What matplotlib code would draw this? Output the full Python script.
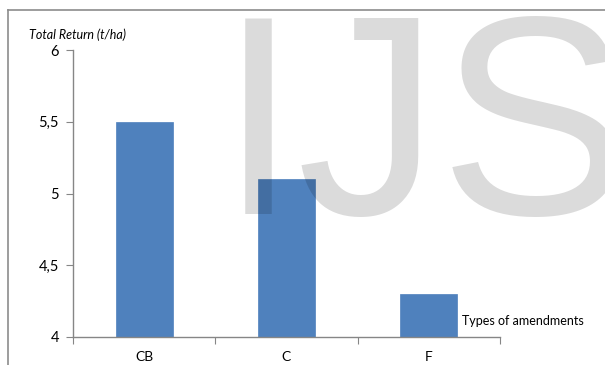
import numpy as np
import matplotlib
matplotlib.use("Agg")
import matplotlib.pyplot as plt
from matplotlib.lines import Line2D

plt.rcParams['font.family'] = ['Lato', 'DejaVu Sans']

# data
categories = ["CB", "C", "F"]
total_return = [5.5, 5.1, 4.3]
ytick_values = [4, 4.5, 5, 5.5, 6]
ytick_labels = ["4", "4,5", "5", "5,5", "6"]

W, H = 605, 365
fig = plt.figure(figsize=(W / 100, H / 100), dpi=100)

# plot area in pixel coordinates of the reference
left, right, top, bottom = 73, 500, 50, 337
ax = fig.add_axes([left / W, 1 - bottom / H, (right - left) / W, (bottom - top) / H])

x = np.arange(len(categories))
ax.bar(x, [v - 4 for v in total_return], bottom=4, width=0.4, color="#4F81BD",
       edgecolor="#4F81BD", linewidth=0.5, zorder=2)

ax.set_xlim(-0.5, len(categories) - 0.5)
ax.set_ylim(4, 6)
ax.set_yticks(ytick_values)
ax.set_yticklabels(ytick_labels, fontsize=10.5)

# excel-style ticks between categories, labels centered
ax.set_xticks(np.arange(-0.5, len(categories), 1.0))
ax.set_xticklabels([])
ax.set_xticks(x, minor=True)
ax.set_xticklabels(categories, minor=True, fontsize=10)
ax.tick_params(axis='x', which='minor', length=0, pad=10)
ax.tick_params(axis='x', which='major', length=5, color="#868686", direction='out')
ax.tick_params(axis='y', length=5, color="#868686", direction='out', pad=5)

for s in ['top', 'right']:
    ax.spines[s].set_visible(False)
for s in ['left', 'bottom']:
    ax.spines[s].set_color("#868686")
    ax.spines[s].set_linewidth(1)

fig.text(29 / W, 1 - 35 / H, "Total Return (t/ha)", fontsize=9, style='italic',
         ha='left', va='center')
fig.text(462 / W, 1 - 321 / H, "Types of amendments", fontsize=9,
         ha='left', va='center')

# chart border (partly cropped in reference)
fig.add_artist(Line2D([8 / W, 1], [1 - 10 / H, 1 - 10 / H], color="#8c8c8c", lw=1.2))
fig.add_artist(Line2D([8 / W, 8 / W], [0, 1 - 10 / H], color="#8c8c8c", lw=1.2))

# watermark
fig.text(219 / W, 1 - 214 / H, "IJS", fontsize=205, family='Liberation Sans',
         color='black', alpha=0.14, ha='left', va='baseline', zorder=10)

fig.savefig("out.png", dpi=100)
